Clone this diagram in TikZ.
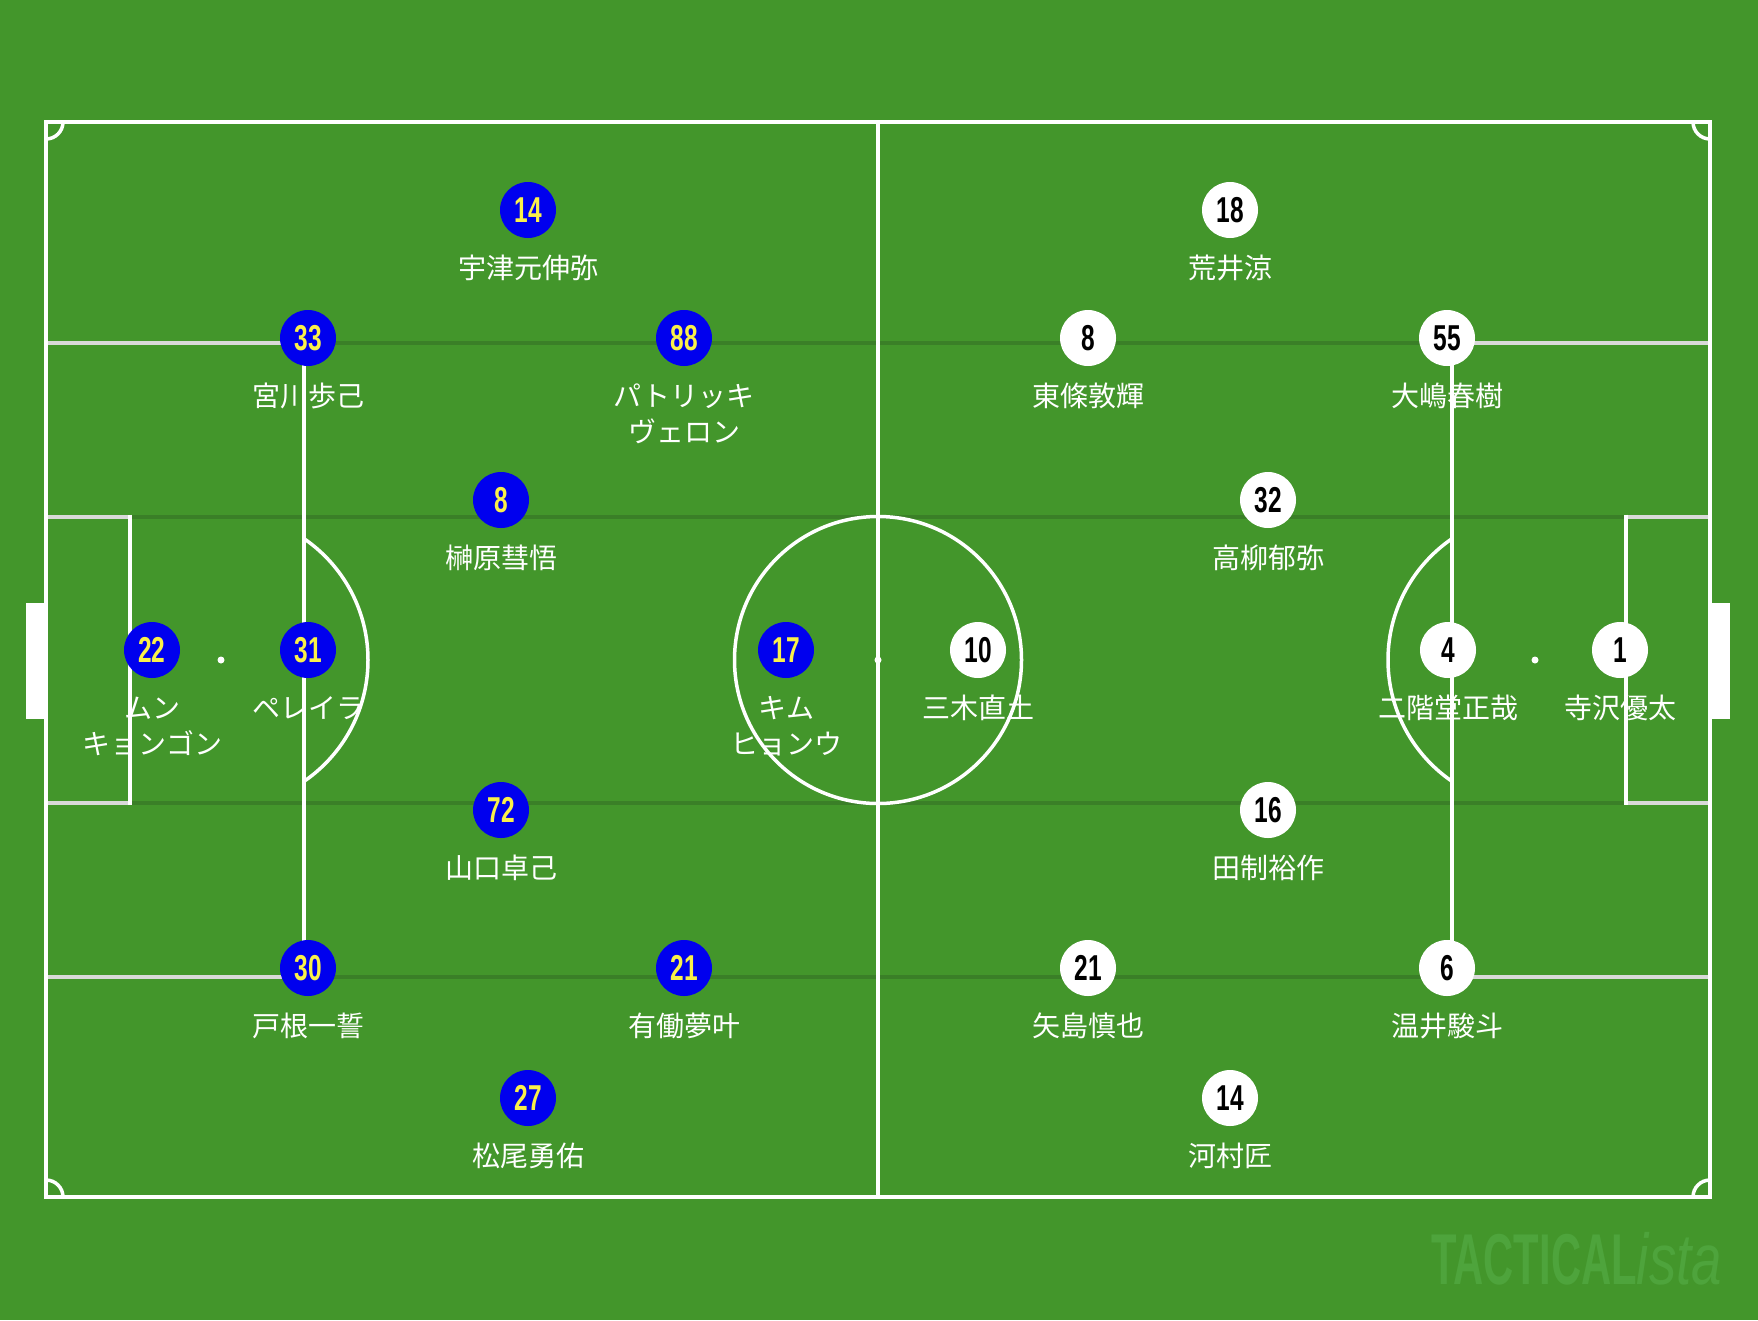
\documentclass[tikz,border=0pt]{standalone}
\usepackage{fontspec}
\usepackage{graphicx}
\newfontfamily\cjkf{Noto Sans CJK JP}
\newfontfamily\numf{Liberation Sans}
\definecolor{grass}{HTML}{43962B}
\definecolor{lanedark}{HTML}{3A7F27}
\definecolor{lanegrey}{HTML}{D9D9D9}
\definecolor{pblue}{HTML}{0000EE}
\definecolor{pyellow}{HTML}{FAF04A}
\definecolor{wmark}{HTML}{4EA43C}
\newcommand\pnum[1]{\scalebox{0.68}[1]{#1}}
\newcommand\player[6]{%
  \node[#4] (#1) at (#2,#3) {\pnum{#5}};
  \node[lbl] (#1l) at (#2,#3+68) {#6};}
\newcommand\playertwo[7]{%
  \node[#4] (#1) at (#2,#3) {\pnum{#5}};
  \node[lbl] (#1l) at (#2,#3+68) {#6};
  \node[lbl] (#1m) at (#2,#3+104) {#7};}
\begin{document}
\begin{tikzpicture}[x=1pt,y=-1pt,
  pline/.style={draw=white,line width=4pt},
  gline/.style={draw=lanegrey,line width=4pt},
  dline/.style={draw=lanedark,line width=4pt},
  cline/.style={draw=white,line width=3.5pt},
  bp/.style={circle,fill=pblue,minimum size=56pt,inner sep=0pt,text=pyellow,
    font=\fontsize{36}{36}\selectfont\numf\bfseries},
  wp/.style={circle,fill=white,minimum size=56pt,inner sep=0pt,text=black,
    font=\fontsize{36}{36}\selectfont\numf\bfseries},
  lbl/.style={anchor=base,inner sep=0pt,text=white,
    font=\fontsize{28}{34}\selectfont\cjkf}]
\useasboundingbox (0,0) rectangle (1758,1320);
\fill[grass] (0,0) rectangle (1758,1320);
% lane lines (dark)
\draw[dline] (304,342.7) -- (1452,342.7);
\draw[dline] (304,976.5) -- (1452,976.5);
\draw[dline] (130,516.7) -- (1626,516.7);
\draw[dline] (130,802.5) -- (1626,802.5);
% box horizontal edges (grey)
\draw[gline] (46,342.7) -- (304,342.7);
\draw[gline] (46,976.5) -- (304,976.5);
\draw[gline] (1452,342.7) -- (1710,342.7);
\draw[gline] (1452,976.5) -- (1710,976.5);
\draw[gline] (46,516.7) -- (130,516.7);
\draw[gline] (46,802.5) -- (130,802.5);
\draw[gline] (1626,516.7) -- (1710,516.7);
\draw[gline] (1626,802.5) -- (1710,802.5);
% box vertical edges
\draw[pline] (304,340.7) -- (304,978.5);
\draw[pline] (1452,340.7) -- (1452,978.5);
\draw[pline] (130,514.7) -- (130,804.5);
\draw[pline] (1626,514.7) -- (1626,804.5);
% outer lines and halfway line
\draw[pline] (46,122) rectangle (1710,1197);
\draw[pline] (878,122) -- (878,1197);
% corner arcs
\begin{scope}
\clip (46,122) rectangle (1710,1197);
\draw[cline] (46,122) circle[radius=17];
\draw[cline] (1710,122) circle[radius=17];
\draw[cline] (46,1197) circle[radius=17];
\draw[cline] (1710,1197) circle[radius=17];
\end{scope}
% penalty arcs
\begin{scope}
\clip (304,0) rectangle (1452,1320);
\draw[cline] (221,660) circle[radius=147];
\draw[cline] (1535,660) circle[radius=147];
\end{scope}
% centre circle and spots
\draw[cline] (878,660) circle[radius=143.5];
\fill[white] (878,660) circle[radius=3.5];
\fill[white] (221,660) circle[radius=3.5];
\fill[white] (1535,660) circle[radius=3.5];
% goals
\fill[white] (26,603) rectangle (46,719);
\fill[white] (1710,603) rectangle (1730,719);
% watermark
\node[anchor=base west,inner sep=0pt,text=wmark,
  font=\fontsize{72}{72}\selectfont\numf] (wm) at (1431,1284)
  {\scalebox{0.58}[1]{\bfseries TACTICAL}\scalebox{0.76}[1]{\itshape ista}};
% blue team
\player{b14}{528}{210}{bp}{14}{宇津元伸弥}
\player{b33}{308}{338}{bp}{33}{宮川歩己}
\playertwo{b88}{684}{338}{bp}{88}{パトリッキ}{ヴェロン}
\player{b8}{501}{500}{bp}{8}{榊原彗悟}
\playertwo{b22}{152}{650}{bp}{22}{ムン}{キョンゴン}
\player{b31}{308}{650}{bp}{31}{ペレイラ}
\playertwo{b17}{786}{650}{bp}{17}{キム}{ヒョンウ}
\player{b72}{501}{810}{bp}{72}{山口卓己}
\player{b30}{308}{968}{bp}{30}{戸根一誓}
\player{b21}{684}{968}{bp}{21}{有働夢叶}
\player{b27}{528}{1098}{bp}{27}{松尾勇佑}
% white team
\player{w18}{1230}{210}{wp}{18}{荒井涼}
\player{w8}{1088}{338}{wp}{8}{東條敦輝}
\player{w55}{1447}{338}{wp}{55}{大嶋春樹}
\player{w32}{1268}{500}{wp}{32}{高柳郁弥}
\player{w10}{978}{650}{wp}{10}{三木直土}
\player{w4}{1448}{650}{wp}{4}{二階堂正哉}
\player{w1}{1620}{650}{wp}{1}{寺沢優太}
\player{w16}{1268}{810}{wp}{16}{田制裕作}
\player{w21}{1088}{968}{wp}{21}{矢島慎也}
\player{w6}{1447}{968}{wp}{6}{温井駿斗}
\player{w14}{1230}{1098}{wp}{14}{河村匠}
\end{tikzpicture}
\end{document}
